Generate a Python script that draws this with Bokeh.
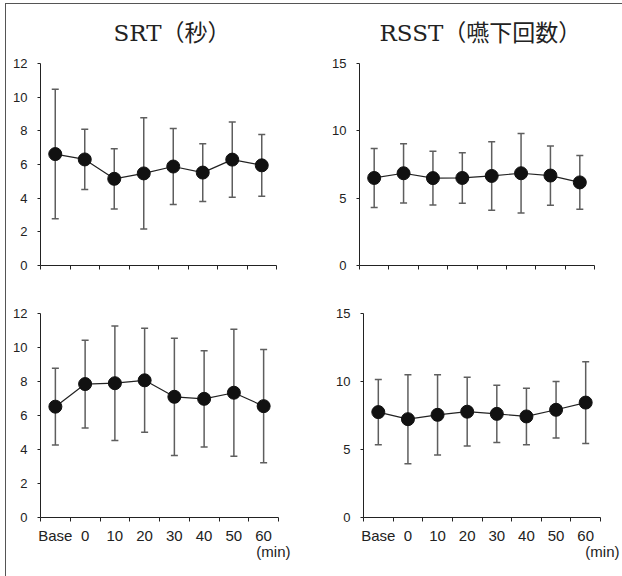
from bokeh.plotting import figure
from bokeh.models import (Range1d, FixedTicker, ColumnDataSource, Whisker, TeeHead,
                          Title, Column, Row)
from bokeh.embed import file_html
from bokeh.resources import INLINE

categories = ["Base", "0", "10", "20", "30", "40", "50", "60"]

srt_top_mean = [6.62, 6.30, 5.15, 5.47, 5.88, 5.52, 6.29, 5.95]
srt_top_sd = [3.85, 1.79, 1.79, 3.30, 2.26, 1.72, 2.23, 1.83]

rsst_top_mean = [6.50, 6.85, 6.49, 6.50, 6.65, 6.85, 6.68, 6.17]
rsst_top_sd = [2.19, 2.20, 2.00, 1.87, 2.54, 2.96, 2.20, 2.00]

srt_bot_mean = [6.52, 7.85, 7.90, 8.07, 7.10, 6.98, 7.34, 6.55]
srt_bot_sd = [2.26, 2.58, 3.37, 3.06, 3.45, 2.83, 3.73, 3.33]

rsst_bot_mean = [7.75, 7.23, 7.55, 7.78, 7.62, 7.43, 7.92, 8.45]
rsst_bot_sd = [2.40, 3.27, 2.95, 2.53, 2.10, 2.08, 2.08, 3.00]

srt_yticks = [0, 2, 4, 6, 8, 10, 12]
rsst_yticks = [0, 5, 10, 15]

titles = ["SRT（秒）", "RSST（嚥下回数）"]
unit_label = "(min)"

SANS = "'Liberation Sans', Arial, sans-serif"
SERIF = "'DejaVu Serif', 'Noto Sans CJK JP', serif"


def panel(mean, sd, yticks, width, height, bl, br, bt, bb, show_labels,
          title=None, title_dx=0, min_dx=0):
    n = len(categories)
    xs = [i + 0.5 for i in range(n)]
    src = ColumnDataSource(dict(
        x=xs, mean=mean,
        upper=[m + s for m, s in zip(mean, sd)],
        lower=[m - s for m, s in zip(mean, sd)],
    ))
    p = figure(width=width, height=height, x_range=Range1d(0, n),
               y_range=Range1d(yticks[0], yticks[-1]), output_backend="svg",
               toolbar_location=None, min_border_left=bl, min_border_right=br,
               min_border_top=bt, min_border_bottom=bb)
    p.outline_line_color = None
    p.xgrid.visible = False
    p.ygrid.visible = False
    p.background_fill_color = None
    p.border_fill_color = None

    # x axis: minor ticks at category boundaries, labels at centers
    p.xaxis.ticker = FixedTicker(ticks=xs, minor_ticks=list(range(n + 1)))
    p.xaxis.major_tick_out = 0
    p.xaxis.major_tick_in = 0
    p.xaxis.minor_tick_out = 4
    p.xaxis.minor_tick_in = 0
    p.xaxis.minor_tick_line_color = "#222222"
    p.xaxis.axis_line_color = "#222222"
    if show_labels:
        p.xaxis.major_label_overrides = {x: c for x, c in zip(xs, categories)}
        p.xaxis.major_label_text_font_size = "15px"
        p.xaxis.major_label_standoff = 5
    else:
        p.xaxis.major_label_overrides = {x: "" for x in xs}
        p.xaxis.major_label_text_font_size = "1px"
        p.xaxis.major_label_standoff = 0
    p.xaxis.major_label_text_font = SANS
    p.xaxis.major_label_text_color = "#222222"

    p.yaxis.ticker = FixedTicker(ticks=yticks)
    p.yaxis.major_tick_out = 3
    p.yaxis.major_tick_in = 0
    p.yaxis.minor_tick_out = 0
    p.yaxis.minor_tick_in = 0
    p.yaxis.axis_line_color = "#222222"
    p.yaxis.major_tick_line_color = "#222222"
    p.yaxis.major_label_text_font = SANS
    p.yaxis.major_label_text_font_size = "13px"
    p.yaxis.major_label_text_color = "#222222"
    p.yaxis.major_label_standoff = 10

    w = Whisker(source=src, base="x", upper="upper", lower="lower",
                dimension="height", line_color="#5e5e5e", line_width=1.5,
                upper_head=TeeHead(size=7, line_color="#5e5e5e", line_width=1.5),
                lower_head=TeeHead(size=7, line_color="#5e5e5e", line_width=1.5),
                level="underlay")
    p.add_layout(w)
    p.line("x", "mean", source=src, line_color="#222222", line_width=1.2)
    p.scatter("x", "mean", source=src, size=13, fill_color="#111111",
              line_color="#111111")

    if title is not None:
        p.title = Title(text=title, align="left", offset=title_dx,
                        text_font=SERIF, text_font_size="23px",
                        text_font_style="normal", text_color="#222222",
                        standoff=35)
    if show_labels:
        p.add_layout(Title(text=unit_label, align="right", offset=min_dx,
                           text_font=SANS, text_font_size="15px",
                           text_font_style="normal", text_color="#222222",
                           standoff=-11), "below")
    return p


p1 = panel(srt_top_mean, srt_top_sd, srt_yticks, 311, 286, 40, 35, 63, 21,
           False, title=titles[0], title_dx=73)
p2 = panel(rsst_top_mean, rsst_top_sd, rsst_yticks, 311, 286, 48, 28, 63, 21,
           False, title=titles[1], title_dx=20)
p3 = panel(srt_bot_mean, srt_bot_sd, srt_yticks, 311, 290, 40, 33, 27, 59,
           True, min_dx=-12)
p4 = panel(rsst_bot_mean, rsst_bot_sd, rsst_yticks, 311, 290, 52, 22, 27, 59,
           True, min_dx=-19)

layout = Column(children=[Row(children=[p1, p2]), Row(children=[p3, p4])],
                styles={"box-shadow": "inset 5px 3px 0 0 #ffffff, inset 6px 4px 0 0 #555555",
                        "background-color": "#ffffff"})

open("out.html", "w").write(file_html(layout, INLINE))
